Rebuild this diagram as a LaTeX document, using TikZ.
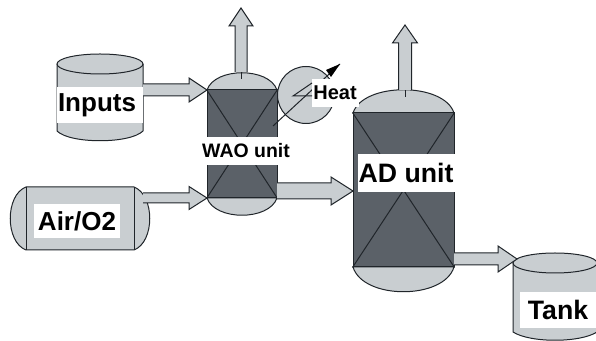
\documentclass[tikz,border=0pt]{standalone}
\usepackage{fontspec}
\setmainfont{Liberation Sans}
\usetikzlibrary{calc,arrows.meta}
\definecolor{vesselLight}{HTML}{C9CED1}
\definecolor{vesselDark}{HTML}{5B6168}
\definecolor{inkLine}{HTML}{20252A}
\newcommand{\pxw}[1]{#1*0.75pt}
\tikzset{
  x=0.75pt,y=-0.75pt,
  ink/.style={draw=inkLine,line width=0.75pt},
  shell/.style={ink,fill=vesselLight},
  core/.style={ink,fill=vesselDark,inner sep=0pt},
  flow/.style={ink,fill=vesselLight,line join=miter},
  band/.style={fill=white,inner sep=0pt,font=\bfseries,text=black},
}
% horizontal block arrow: from, tip, half tail, half head, head length
\newcommand{\flowH}[5]{\draw[flow] ($(#1)+(0,-#3)$) -- ($(#2)+(-#5,-#3)$) -- ($(#2)+(-#5,-#4)$) -- (#2) -- ($(#2)+(-#5,#4)$) -- ($(#2)+(-#5,#3)$) -- ($(#1)+(0,#3)$);}
% vertical block arrow going up
\newcommand{\flowV}[5]{\draw[flow] ($(#1)+(-#3,0)$) -- ($(#2)+(-#3,#5)$) -- ($(#2)+(-#4,#5)$) -- (#2) -- ($(#2)+(#4,#5)$) -- ($(#2)+(#3,#5)$) -- ($(#1)+(#3,0)$);}
\begin{document}
\begin{tikzpicture}
\useasboundingbox (0,0) rectangle (596,341);

% Inputs drum
\draw[shell] (57,64) -- (57,131) .. controls (70,144) and (130,144) .. (143,131) -- (143,64);
\draw[shell] (100,64) ellipse [x radius=43,y radius=10];
\node[band,minimum width=\pxw{86},minimum height=\pxw{36},font=\bfseries\fontsize{19.5pt}{22pt}\selectfont,text width=\pxw{84},align=left] (inputs) at (100,105) {Inputs};

% Air tank
\draw[shell] (26,187) .. controls (5,195) and (5,242) .. (26,250) -- (134,250) .. controls (155,242) and (155,195) .. (134,187) -- cycle;
\draw[ink] (26,187) -- (26,250) (134,187) -- (134,250);
\node[band,minimum width=\pxw{86},minimum height=\pxw{34},font=\bfseries\fontsize{19.5pt}{22pt}\selectfont] (air) at (77,221) {Air/O2};

% WAO unit
\draw[shell] (207,90) .. controls (215,67) and (269,67) .. (277,90) -- cycle;
\draw[shell] (207,198) .. controls (215,221) and (269,221) .. (277,198) -- cycle;
\node[core,minimum width=\pxw{70},minimum height=\pxw{108}] (wao) at (242,144) {};
\draw[ink] (wao.north west) -- (wao.south east) (wao.north east) -- (wao.south west);
\draw[ink] (241,72) -- (241,79);

% AD unit
\draw[shell] (353,113) .. controls (363,82) and (444,82) .. (454,113) -- cycle;
\draw[shell] (353,267) .. controls (363,300) and (444,300) .. (454,267) -- cycle;
\node[core,minimum width=\pxw{101},minimum height=\pxw{154}] (ad) at (403.5,190) {};
\draw[ink] (ad.north west) -- (ad.south east) (ad.north east) -- (ad.south west);
\draw[ink] (405,90) -- (405,97);

% Heat exchanger
\node[circle,shell,minimum size=\pxw{57},inner sep=0pt] (hx) at (306,95) {};
\coordinate (hxa) at (273,126);
\coordinate (hxb) at (340,64);
\draw[ink] (hxa) -- (hxb);
\fill[black] (hxb) -- (326,70) -- (331,77) -- cycle;

% Labels over the vessels
\node[band,minimum width=\pxw{91},minimum height=\pxw{28},font=\bfseries\fontsize{14.6pt}{17pt}\selectfont] (waolabel) at (246,151) {WAO unit};
\node[band,minimum width=\pxw{97},minimum height=\pxw{38},font=\bfseries\fontsize{20pt}{23pt}\selectfont] (adlabel) at (406,173) {AD unit};
\node[band,minimum width=\pxw{47},minimum height=\pxw{28},font=\bfseries\fontsize{15pt}{18pt}\selectfont] (heat) at (335,93) {Heat};
\coordinate (ang) at (293,96);
\draw[ink] (312,83) -- (ang) -- (312,96);

% Tank
\draw[shell] (513,263) -- (513,332) .. controls (530,343) and (580,343) .. (597,332) -- (597,263);
\draw[shell] (555,263) ellipse [x radius=42,y radius=10];
\node[band,minimum width=\pxw{77},minimum height=\pxw{36},font=\bfseries\fontsize{20pt}{23pt}\selectfont] (tank) at (558,310) {Tank\hspace{3pt}};

% Block arrows
\coordinate (a1) at (143,90);  \coordinate (a1t) at (207,90);
\coordinate (a2) at (143,198); \coordinate (a2t) at (207,198);
\coordinate (a3) at (277,191); \coordinate (a3t) at (353,191);
\coordinate (a4) at (454,259); \coordinate (a4t) at (517,259);
\coordinate (a5) at (241,72);  \coordinate (a5t) at (241,8);
\coordinate (a6) at (405,90);  \coordinate (a6t) at (405,25);
\flowH{a1}{a1t}{6}{12}{18}
\flowH{a2}{a2t}{5}{11.5}{18}
\flowH{a3}{a3t}{8}{14}{22}
\flowH{a4}{a4t}{6}{13}{19}
\flowV{a5}{a5t}{6}{12}{18}
\flowV{a6}{a6t}{6.5}{12.5}{18}
\end{tikzpicture}
\end{document}
